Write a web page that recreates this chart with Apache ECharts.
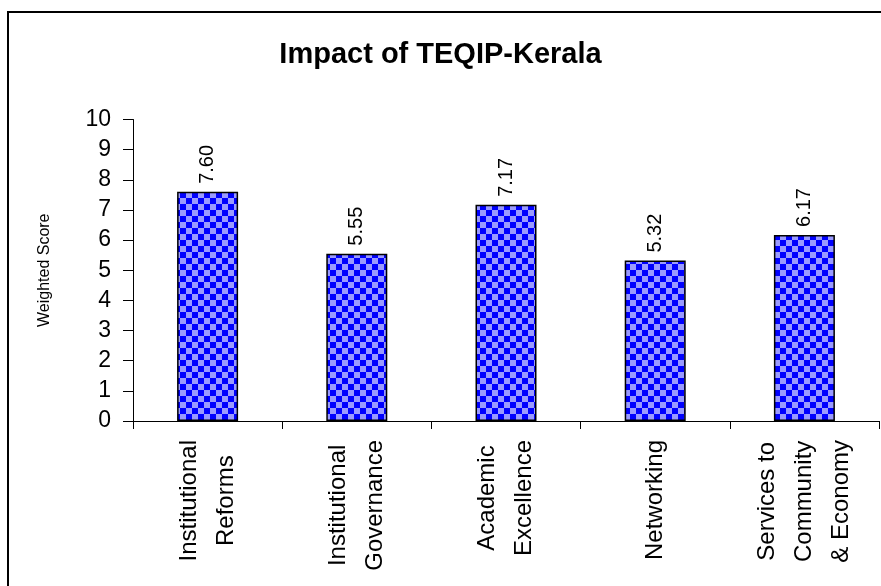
<!DOCTYPE html>
<html><head><meta charset="utf-8">
<script src="https://cdn.jsdelivr.net/npm/echarts@6/dist/echarts.min.js"></script>
<style>html,body{margin:0;padding:0;background:#fff}#c{width:881px;height:586px}</style>
</head><body><div id="c"></div>
<script>
const titleText = 'Impact of TEQIP-Kerala';
const yAxisName = 'Weighted Score';
const categories = ['Institutional\nReforms', 'Institutional\nGovernance', 'Academic\nExcellence', 'Networking', 'Services to\nCommunity\n& Economy'];
const values = [7.60, 5.55, 7.17, 5.32, 6.17];
const yMin = 0, yMax = 10, yStep = 1;

const FONT = 'Liberation Sans, Arial, sans-serif';

// checkerboard pattern
const pc = document.createElement('canvas');
pc.width = 12; pc.height = 12;
const pctx = pc.getContext('2d');
pctx.fillStyle = '#9a9aff'; pctx.fillRect(0, 0, 12, 12);
pctx.fillStyle = '#0000ff'; pctx.fillRect(0, 0, 6, 6); pctx.fillRect(6, 6, 6, 6);

const chart = echarts.init(document.getElementById('c'), null, {renderer: 'canvas'});
chart.setOption({
  animation: false,
  backgroundColor: '#fff',
  title: {
    text: titleText, left: 'center', top: 35,
    textStyle: {fontFamily: FONT, fontSize: 29, fontWeight: 'bold', color: '#000'}
  },
  graphic: [{
    type: 'rect', z: -1, silent: true,
    shape: {x: 8, y: 12, width: 1000, height: 1000},
    style: {fill: 'none', stroke: '#000', lineWidth: 2}
  }],
  grid: {left: 133, top: 119.5, right: 2, bottom: 165, containLabel: false},
  xAxis: {
    type: 'category', data: categories,
    axisLine: {show: true, lineStyle: {color: '#000', width: 1}},
    axisTick: {show: true, length: 8, interval: 0, lineStyle: {color: '#000'}},
    axisLabel: {
      interval: 0, rotate: 90, margin: 19, color: '#000',
      formatter: v => v.split('\n').map(s => '{c|' + s + '}').join('\n'),
      rich: {c: {align: 'center', fontFamily: FONT, fontSize: 24, lineHeight: 37, color: '#000'}}
    },
    splitLine: {show: false}
  },
  yAxis: {
    type: 'value', min: yMin, max: yMax, interval: yStep,
    name: yAxisName, nameLocation: 'middle', nameRotate: 90, nameGap: 80,
    nameTextStyle: {fontFamily: FONT, fontSize: 16, color: '#000'},
    axisLine: {show: true, lineStyle: {color: '#000', width: 1}},
    axisTick: {show: true, length: 10, lineStyle: {color: '#000'}},
    axisLabel: {margin: 22, fontFamily: FONT, fontSize: 23, color: '#000'},
    splitLine: {show: false}
  },
  series: [{
    type: 'bar', data: values, barWidth: 61,
    itemStyle: {color: {image: pc, repeat: 'repeat'}, borderColor: '#000', borderWidth: 1.5},
    label: {
      show: true, position: 'top', rotate: 90, align: 'left', verticalAlign: 'middle', distance: 8,
      fontFamily: FONT, fontSize: 20, color: '#000',
      formatter: p => p.value.toFixed(2)
    }
  }]
});
</script></body></html>
